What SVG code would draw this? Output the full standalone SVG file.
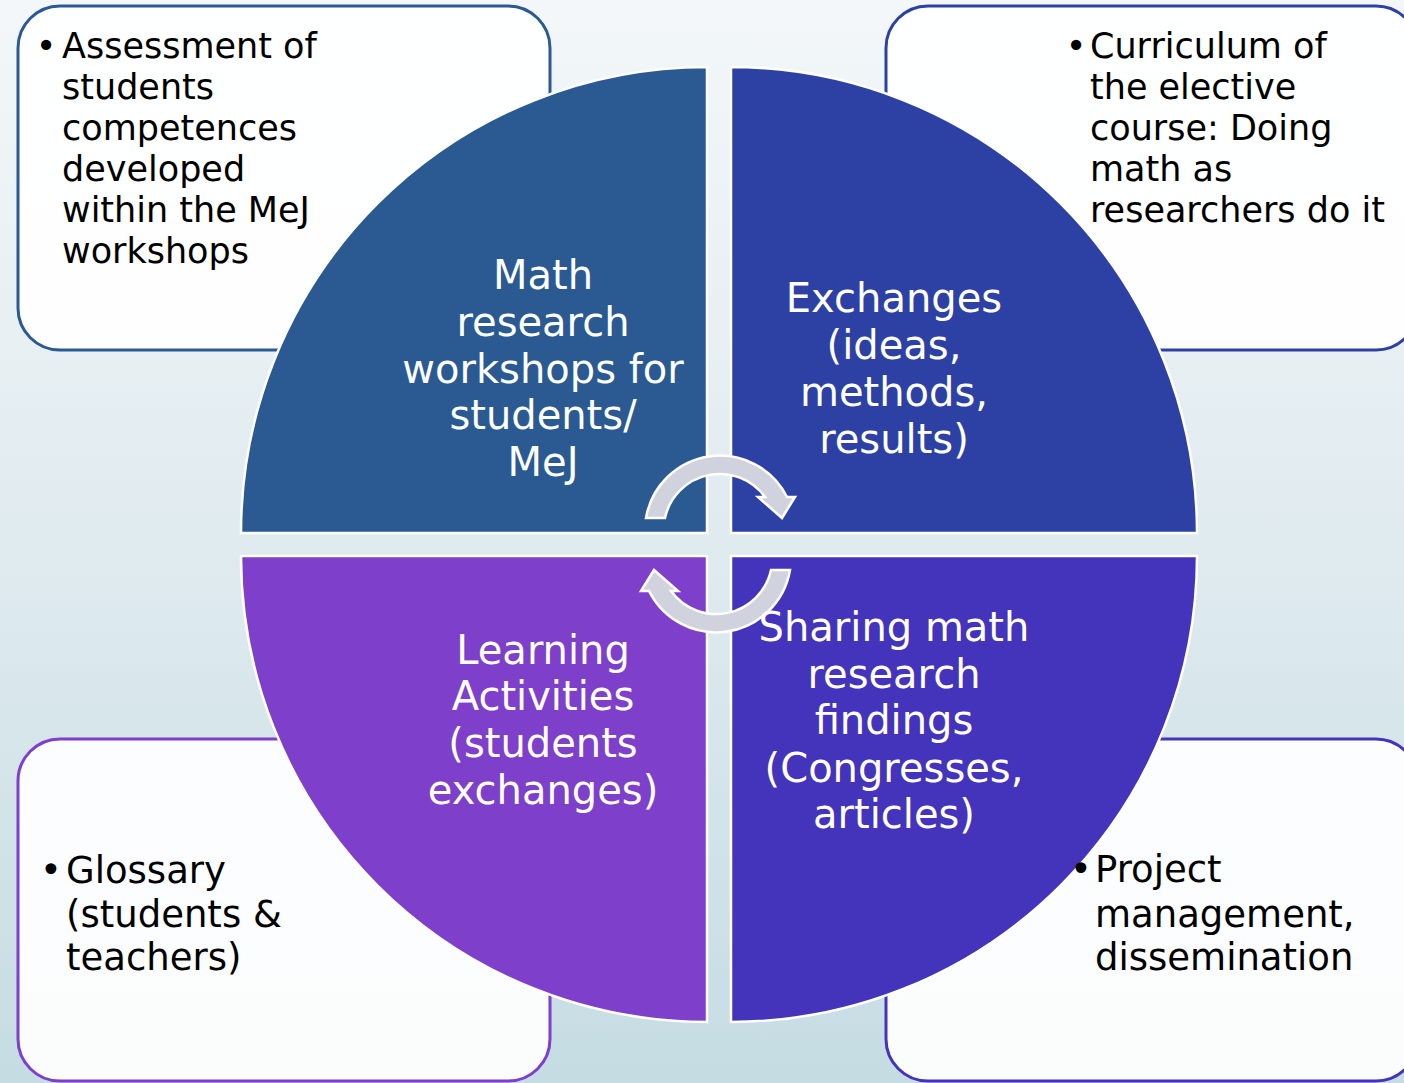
<svg xmlns="http://www.w3.org/2000/svg" width="1404" height="1083" viewBox="0 0 1404 1083">
<defs>
<linearGradient id="bg" x1="0" y1="0" x2="0" y2="1">
<stop offset="0" stop-color="#F3F7F9"/>
<stop offset="0.5" stop-color="#E0EBEF"/>
<stop offset="1" stop-color="#C5DCE3"/>
</linearGradient>
<style>
.box{fill:#FFFFFF;fill-opacity:0.93;stroke-width:3}
.quad{stroke:#FFFFFF;stroke-width:2.5}
.btxt{font-family:"DejaVu Sans","Liberation Sans",sans-serif;font-size:35px;fill:#000000}
.btxt2{font-family:"DejaVu Sans","Liberation Sans",sans-serif;font-size:37px;fill:#000000}
.qtxt{font-family:"DejaVu Sans","Liberation Sans",sans-serif;font-size:40px;fill:#FFFFFF;text-anchor:middle}
.bul{text-anchor:middle}
.arrow{fill:#D0D3DD;stroke:#FFFFFF;stroke-width:2.5;stroke-linejoin:miter}
</style>
</defs>
<rect width="1404" height="1083" fill="url(#bg)"/>

<g id="box-tl"><rect class="box" x="18" y="6" width="532" height="344" rx="42" stroke="#2A5A91"/></g>
<g id="box-tr"><rect class="box" x="886" y="6" width="532" height="344" rx="42" stroke="#2D41A5"/></g>
<g id="box-bl"><rect class="box" x="18" y="739" width="532" height="342" rx="42" stroke="#7E3FCB"/></g>
<g id="box-br"><rect class="box" x="886" y="739" width="532" height="342" rx="42" stroke="#4433BB"/></g>

<g id="quad-tl"><path class="quad" fill="#2A5A91" d="M707,533 L241,533 A466,466 0 0 1 707,67 Z"/></g>
<g id="quad-tr"><path class="quad" fill="#2D41A5" d="M731,533 L731,67 A466,466 0 0 1 1197,533 Z"/></g>
<g id="quad-br"><path class="quad" fill="#4433BB" d="M731,556 L1197,556 A466,466 0 0 1 731,1022 Z"/></g>
<g id="quad-bl"><path class="quad" fill="#7E3FCB" d="M707,556 L707,1022 A466,466 0 0 1 241,556 Z"/></g>

<g id="connectors">
<path id="arrow-top" class="arrow" d="M646,518 A75,75 0 0 1 787,497 L795,497 L782,518 L758,497 L765,497 A56,56 0 0 0 665,518 Z"/>
<path id="arrow-bottom" class="arrow" transform="rotate(180 718 544)" d="M646,518 A75,75 0 0 1 787,497 L795,497 L782,518 L758,497 L765,497 A56,56 0 0 0 665,518 Z"/>
</g>

<g id="label-tl">
<text class="qtxt" x="543"><tspan x="543" y="289">Math</tspan><tspan x="543" y="336">research</tspan><tspan x="543" y="383">workshops for</tspan><tspan x="543" y="429">students/</tspan><tspan x="543" y="476">MeJ</tspan></text>
</g>
<g id="label-tr">
<text class="qtxt" x="894"><tspan x="894" y="312">Exchanges</tspan><tspan x="894" y="359">(ideas,</tspan><tspan x="894" y="406">methods,</tspan><tspan x="894" y="453">results)</tspan></text>
</g>
<g id="label-bl">
<text class="qtxt" x="543"><tspan x="543" y="664">Learning</tspan><tspan x="543" y="710">Activities</tspan><tspan x="543" y="757">(students</tspan><tspan x="543" y="804">exchanges)</tspan></text>
</g>
<g id="label-br">
<text class="qtxt" x="894"><tspan x="894" y="641">Sharing math</tspan><tspan x="894" y="688">research</tspan><tspan x="894" y="734">findings</tspan><tspan x="894" y="782">(Congresses,</tspan><tspan x="894" y="828">articles)</tspan></text>
</g>

<g id="text-tl">
<text class="btxt bul" x="46" y="58">•</text>
<text class="btxt" x="62"><tspan x="62" y="58">Assessment of</tspan><tspan x="62" y="99">students</tspan><tspan x="62" y="140">competences</tspan><tspan x="62" y="181">developed</tspan><tspan x="62" y="222">within the MeJ</tspan><tspan x="62" y="263">workshops</tspan></text>
</g>
<g id="text-tr">
<text class="btxt bul" x="1076" y="58">•</text>
<text class="btxt" x="1090"><tspan x="1090" y="58">Curriculum of</tspan><tspan x="1090" y="99">the elective</tspan><tspan x="1090" y="140">course: Doing</tspan><tspan x="1090" y="181">math as</tspan><tspan x="1090" y="222">researchers do it</tspan></text>
</g>
<g id="text-bl">
<text class="btxt2 bul" x="51" y="883">•</text>
<text class="btxt2" x="66"><tspan x="66" y="883">Glossary</tspan><tspan x="66" y="927">(students &amp;</tspan><tspan x="66" y="970">teachers)</tspan></text>
</g>
<g id="text-br">
<text class="btxt2 bul" x="1081" y="882">•</text>
<text class="btxt2" x="1095"><tspan x="1095" y="882">Project</tspan><tspan x="1095" y="927">management,</tspan><tspan x="1095" y="970">dissemination</tspan></text>
</g>
</svg>
